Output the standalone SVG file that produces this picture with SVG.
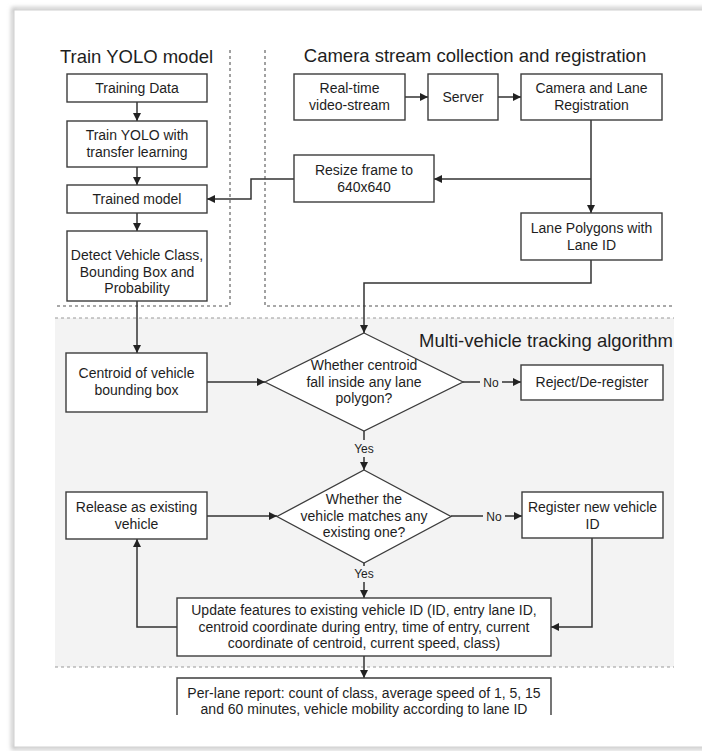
<svg xmlns="http://www.w3.org/2000/svg" width="702" height="751" viewBox="0 0 702 751">
<defs>
<style>
.box{fill:#fff;stroke:#3c3c3c;stroke-width:1.4}
.dia{fill:#fff;stroke:#3c3c3c;stroke-width:1.3}
.t{font-family:"Liberation Sans",Arial,sans-serif;font-size:14px;fill:#1e1e1e;text-anchor:middle}
.ttl{font-family:"Liberation Sans",Arial,sans-serif;font-size:18.5px;fill:#1e1e1e}
.lbl{font-family:"Liberation Sans",Arial,sans-serif;font-size:12px;fill:#1e1e1e;text-anchor:middle}
.c{fill:none;stroke:#333;stroke-width:1.5}
.dd{fill:none;stroke:#555;stroke-width:1.1;stroke-dasharray:3 3}
.dg{fill:none;stroke:#9a9a9a;stroke-width:1.1;stroke-dasharray:3 3}
</style>
<marker id="ah" viewBox="0 0 10 10" refX="10" refY="5" markerUnits="userSpaceOnUse" markerWidth="9" markerHeight="8" orient="auto">
<path d="M0,0 L10,5 L0,10 z" fill="#222"/>
</marker>
<filter id="sh" x="-5%" y="-5%" width="110%" height="110%">
<feGaussianBlur stdDeviation="2"/>
</filter>
</defs>
<rect x="0" y="0" width="702" height="751" fill="#ffffff"/>
<rect x="13" y="9" width="700" height="739" fill="none" stroke="#b8b8b8" stroke-width="3" filter="url(#sh)"/>
<rect x="14" y="10" width="700" height="737" fill="#ffffff" stroke="#d0d0d0" stroke-width="1"/>

<g id="regions">
<rect x="55" y="318" width="619" height="349" fill="#f3f3f3"/>
<path class="dd" d="M230,50 V306 H55"/>
<path class="dd" d="M265,50 V306 H673"/>
<path class="dg" d="M55,318 H674"/>
<path class="dg" d="M55,667 H674"/>
<text class="ttl" x="136.5" y="63" text-anchor="middle">Train YOLO model</text>
<text class="ttl" x="475" y="62" text-anchor="middle">Camera stream collection and registration</text>
<text class="ttl" x="673" y="347" text-anchor="end">Multi-vehicle tracking algorithm</text>
</g>

<g id="connectors">
<path class="c" d="M137,102 V121" marker-end="url(#ah)"/>
<path class="c" d="M137,167 V185" marker-end="url(#ah)"/>
<path class="c" d="M137,213 V231" marker-end="url(#ah)"/>
<path class="c" d="M137,301 V353" marker-end="url(#ah)"/>
<path class="c" d="M405,97 H428" marker-end="url(#ah)"/>
<path class="c" d="M498,97 H521" marker-end="url(#ah)"/>
<path class="c" d="M591,120 V213" marker-end="url(#ah)"/>
<path class="c" d="M591,179 H434" marker-end="url(#ah)"/>
<path class="c" d="M294,179 H251 V199 H207" marker-end="url(#ah)"/>
<path class="c" d="M591,260 V283 H364 V333" marker-end="url(#ah)"/>
<path class="c" d="M207,382 H265" marker-end="url(#ah)"/>
<path class="c" d="M463,382 H480 M502,382 H521" marker-end="url(#ah)"/>
<path class="c" d="M364,431 V440 M364,457 V470" marker-end="url(#ah)"/>
<path class="c" d="M207,516 H277" marker-end="url(#ah)"/>
<path class="c" d="M451,516 H483 M505,516 H522" marker-end="url(#ah)"/>
<path class="c" d="M364,563 V566 M364,582 V598" marker-end="url(#ah)"/>
<path class="c" d="M592,538 V627 H551" marker-end="url(#ah)"/>
<path class="c" d="M177,627 H137 V539" marker-end="url(#ah)"/>
<path class="c" d="M364,656 V678" marker-end="url(#ah)"/>
<text class="lbl" x="491" y="386.5">No</text>
<text class="lbl" x="364" y="452.5">Yes</text>
<text class="lbl" x="494" y="520.5">No</text>
<text class="lbl" x="364" y="578">Yes</text>
</g>

<g id="training-data"><rect class="box" x="67" y="74" width="140" height="28"/><text class="t" x="137" y="93">Training Data</text></g>
<g id="train-yolo"><rect class="box" x="67" y="121" width="140" height="46"/><text class="t" x="137" y="140">Train YOLO with</text><text class="t" x="137" y="156.5">transfer learning</text></g>
<g id="trained-model"><rect class="box" x="67" y="185" width="140" height="28"/><text class="t" x="137" y="204">Trained model</text></g>
<g id="detect"><rect class="box" x="67" y="231" width="140" height="70"/><text class="t" x="137" y="260">Detect Vehicle Class,</text><text class="t" x="137" y="276.5">Bounding Box and</text><text class="t" x="137" y="293">Probability</text></g>

<g id="realtime"><rect class="box" x="294" y="74" width="111" height="46"/><text class="t" x="349.5" y="93">Real-time</text><text class="t" x="349.5" y="109.5">video-stream</text></g>
<g id="server"><rect class="box" x="428" y="74" width="70" height="46"/><text class="t" x="463" y="102">Server</text></g>
<g id="camera-reg"><rect class="box" x="521" y="74" width="141" height="46"/><text class="t" x="591.5" y="93">Camera and Lane</text><text class="t" x="591.5" y="109.5">Registration</text></g>
<g id="resize"><rect class="box" x="294" y="155" width="140" height="47"/><text class="t" x="364" y="175">Resize frame to</text><text class="t" x="364" y="191.5">640x640</text></g>
<g id="lane-polygons"><rect class="box" x="521" y="213" width="141" height="47"/><text class="t" x="591.5" y="233">Lane Polygons with</text><text class="t" x="591.5" y="249.5">Lane ID</text></g>

<g id="centroid"><rect class="box" x="66" y="353" width="141" height="59"/><text class="t" x="136.5" y="378">Centroid of vehicle</text><text class="t" x="136.5" y="394.5">bounding box</text></g>
<g id="decision-lane"><path class="dia" d="M364,333 L463,382 L364,431 L265,382 Z"/><text class="t" x="364" y="370">Whether centroid</text><text class="t" x="364" y="386.5">fall inside any lane</text><text class="t" x="364" y="403">polygon?</text></g>
<g id="reject"><rect class="box" x="521" y="365" width="142" height="35"/><text class="t" x="592" y="387">Reject/De-register</text></g>
<g id="release"><rect class="box" x="66" y="492" width="141" height="47"/><text class="t" x="136.5" y="512">Release as existing</text><text class="t" x="136.5" y="528.5">vehicle</text></g>
<g id="decision-match"><path class="dia" d="M364,470 L451,516.5 L364,563 L277,516.5 Z"/><text class="t" x="364" y="504">Whether the</text><text class="t" x="364" y="520.5">vehicle matches any</text><text class="t" x="364" y="537">existing one?</text></g>
<g id="register"><rect class="box" x="522" y="492" width="141" height="46"/><text class="t" x="592.5" y="512">Register new vehicle</text><text class="t" x="592.5" y="528.5">ID</text></g>
<g id="update"><rect class="box" x="177" y="598" width="374" height="58"/><text class="t" x="364" y="615">Update features to existing vehicle ID (ID, entry lane ID,</text><text class="t" x="364" y="631.5">centroid coordinate during entry, time of entry, current</text><text class="t" x="364" y="648">coordinate of centroid, current speed, class)</text></g>
<g id="per-lane"><path d="M177,715 V678 H551 V715" fill="#fff" stroke="#3c3c3c" stroke-width="1.4"/><text class="t" x="364" y="698">Per-lane report: count of class, average speed of 1, 5, 15</text><text class="t" x="364" y="714">and 60 minutes, vehicle mobility according to lane ID</text></g>
</svg>
